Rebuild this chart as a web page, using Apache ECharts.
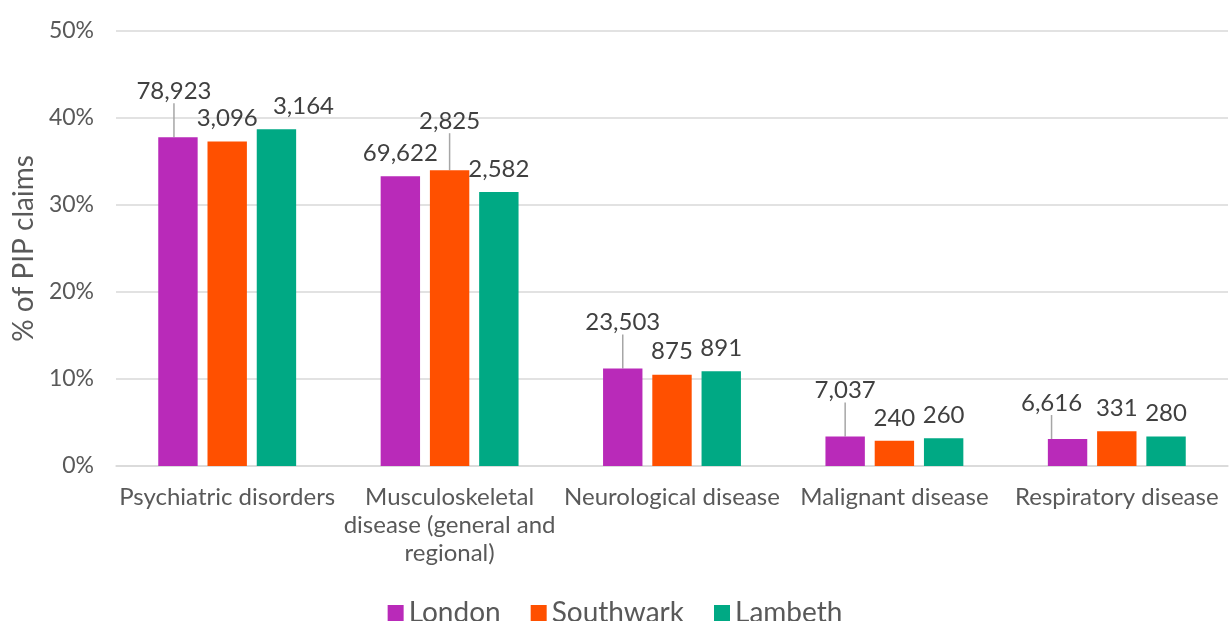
<!DOCTYPE html>
<html>
<head>
<meta charset="utf-8">
<script src="https://cdn.jsdelivr.net/npm/echarts@6/dist/echarts.min.js"></script>
<style>
  html, body { margin: 0; padding: 0; background: #fff; }
  #pip-chart { width: 1230px; height: 621px; }
</style>
</head>
<body>
<div id="pip-chart"></div>
<script>
// categories (x axis)
var categories = [
  "Psychiatric disorders",
  "Musculoskeletal\ndisease (general and\nregional)",
  "Neurological disease",
  "Malignant disease",
  "Respiratory disease"
];

// % of PIP claims per area
var londonPct = [37.8, 33.3, 11.2, 3.4, 3.1];
var southwarkPct = [37.3, 34.0, 10.5, 2.9, 4.0];
var lambethPct = [38.7, 31.5, 10.9, 3.2, 3.4];

// claim counts, shown as data labels
var londonCount = [78923, 69622, 23503, 7037, 6616];
var southwarkCount = [3096, 2825, 875, 240, 331];
var lambethCount = [3164, 2582, 891, 260, 280];

var yTicks = [0, 10, 20, 30, 40, 50];

// labels that were dragged away from their bars: [dx, dy, leader line?]
var labelShift = [
  [[-4, -23, true], null, [0, -23, true], [0, -23, true], [-16, -13, true]],
  [null, [0, -26, true], null, null, null],
  [[27, 0, false], null, null, null, null]
];

var textColor = "#595959";
var fontFamily = "Lato, 'Open Sans', sans-serif";

function fmt(n) {
  return n.toLocaleString("en-GB");
}

function makeSeries(name, color, pct, counts, idx) {
  var items = pct.map(function (v, i) {
    var s = labelShift[idx][i];
    return {
      value: v,
      labelLine: { show: !!(s && s[2]) }
    };
  });
  return {
    name: name,
    type: "bar",
    data: items,
    barGap: "25%",
    barCategoryGap: "38%",
    itemStyle: { color: color },
    label: {
      show: true,
      position: "top",
      distance: 11,
      color: "#404040",
      fontSize: 24,
      fontFamily: fontFamily,
      formatter: function (p) {
        return fmt(counts[p.dataIndex]);
      }
    },
    labelLine: {
      show: false,
      lineStyle: { color: "#a6a6a6", width: 1.5 }
    },
    labelLayout: function (p) {
      var s = labelShift[idx][p.dataIndex];
      return s ? { dx: s[0], dy: s[1] } : {};
    }
  };
}

var myChart = echarts.init(document.getElementById("pip-chart"));

var option = {
  animation: false,
  textStyle: { fontFamily: fontFamily },
  grid: {
    left: 116,
    right: 2,
    top: 31,
    bottom: 155,
    containLabel: false,
    outerBoundsMode: "none"
  },
  legend: {
    data: ["London", "Southwark", "Lambeth"],
    left: "center",
    top: 594,
    itemWidth: 16,
    itemHeight: 16,
    itemGap: 30,
    icon: "rect",
    textStyle: { color: textColor, fontSize: 28, fontFamily: fontFamily }
  },
  xAxis: {
    type: "category",
    data: categories,
    axisTick: { show: false },
    axisLine: { lineStyle: { color: "#d9d9d9", width: 1.5 } },
    axisLabel: {
      color: textColor,
      fontSize: 24,
      lineHeight: 28,
      margin: 17,
      interval: 0,
      fontFamily: fontFamily
    }
  },
  yAxis: {
    type: "value",
    min: yTicks[0],
    max: yTicks[yTicks.length - 1],
    interval: 10,
    name: "% of PIP claims",
    nameLocation: "middle",
    nameGap: 78,
    nameTextStyle: { color: textColor, fontSize: 28, fontFamily: fontFamily },
    axisLine: { show: false },
    axisTick: { show: false },
    splitLine: { lineStyle: { color: "#d9d9d9", width: 1.5 } },
    axisLabel: {
      color: textColor,
      fontSize: 23,
      margin: 22,
      fontFamily: fontFamily,
      formatter: "{value}%"
    }
  },
  series: [
    makeSeries("London", "#b92ab9", londonPct, londonCount, 0),
    makeSeries("Southwark", "#ff5000", southwarkPct, southwarkCount, 1),
    makeSeries("Lambeth", "#00a984", lambethPct, lambethCount, 2)
  ]
};

myChart.setOption(option);
window.addEventListener("resize", function () {
  myChart.resize();
});
</script>
</body>
</html>
